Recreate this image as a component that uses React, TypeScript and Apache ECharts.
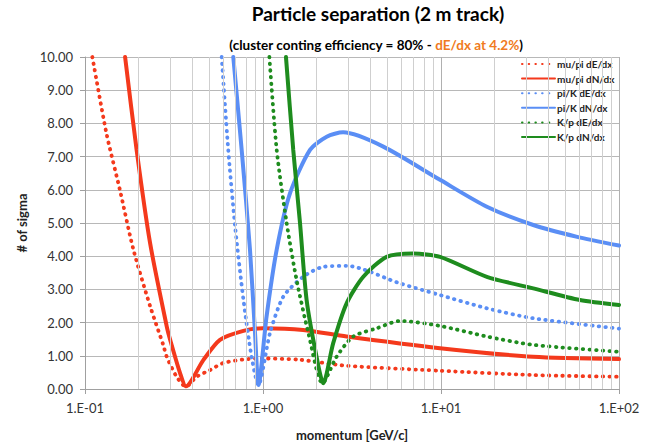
import React, { useEffect, useRef } from "react";
import * as echarts from "echarts";

// ---- data ----
const xTickLabels = ["1.E-01", "1.E+00", "1.E+01", "1.E+02"];
const minorGridMomenta = [0.2, 0.3, 0.4, 0.5, 0.6, 0.7, 0.8, 0.9, 2, 3, 4, 5, 6, 7, 8, 9, 20, 30, 40, 50, 60, 70, 80, 90];

const muPiDEdxP = [0.11, 0.132, 0.157, 0.187, 0.232, 0.275, 0.288, 0.327, 0.369, 0.424, 0.504, 0.596, 0.776, 1.0, 1.61, 2.95, 9.87, 32.9, 100];
const muPiDEdxS = [10, 7.7, 6.0, 4.2, 2.5, 1.33, 0.97, 0.37, 0.07, 0.37, 0.57, 0.78, 0.89, 0.92, 0.88, 0.7, 0.55, 0.42, 0.37];

const muPiDNdxP = [0.168, 0.195, 0.232, 0.288, 0.301, 0.342, 0.369, 0.462, 0.573, 0.776, 1.0, 1.68, 2.95, 9.87, 32.9, 100];
const muPiDNdxS = [10, 7.2, 4.4, 1.88, 1.48, 0.48, 0.08, 0.87, 1.48, 1.75, 1.83, 1.78, 1.58, 1.23, 0.97, 0.9];

const piKDEdxP = [0.586, 0.638, 0.697, 0.776, 0.863, 0.942, 1.094, 1.3, 1.68, 2.18, 2.95, 5.89, 9.87, 18.1, 33.0, 100];
const piKDEdxS = [10, 7.2, 4.9, 2.7, 0.97, 0.12, 1.68, 2.78, 3.38, 3.68, 3.71, 3.18, 2.83, 2.43, 2.13, 1.82];

const piKDNdxP = [0.681, 0.759, 0.845, 0.902, 0.944, 1.047, 1.194, 1.419, 1.837, 2.28, 2.82, 4.74, 9.87, 18.1, 33.0, 57.5, 100];
const piKDNdxS = [10, 7.2, 4.2, 1.68, 0.12, 2.18, 4.2, 5.9, 7.2, 7.6, 7.73, 7.3, 6.3, 5.49, 4.94, 4.59, 4.32];

const kPDEdxP = [1.086, 1.194, 1.358, 1.545, 1.8, 2.16, 2.59, 3.21, 4.36, 5.89, 9.87, 18.1, 33.0, 100];
const kPDEdxS = [10, 7.2, 5.0, 3.28, 1.68, 0.17, 0.97, 1.58, 1.83, 2.05, 1.9, 1.58, 1.33, 1.12];

const kPDNdxP = [1.346, 1.479, 1.614, 1.758, 2.0, 2.18, 2.48, 2.95, 3.66, 4.95, 6.98, 9.87, 18.1, 33.0, 60.3, 100];
const kPDNdxS = [10, 7.2, 5.0, 2.68, 0.97, 0.17, 1.38, 2.58, 3.38, 3.98, 4.08, 3.98, 3.38, 3.03, 2.68, 2.53];

const RED = "#f4391c";
const BLUE = "#5a8ef5";
const GREEN = "#1e8c1e";
const FONT = "Lato";

const zip = (xs: number[], ys: number[]) => xs.map((x, i) => [x, ys[i]]);

const seriesDefs = [
  { name: "mu/pi dE/dx", p: muPiDEdxP, s: muPiDEdxS, color: RED, dotted: true },
  { name: "mu/pi dN/dx", p: muPiDNdxP, s: muPiDNdxS, color: RED, dotted: false },
  { name: "pi/K dE/dx", p: piKDEdxP, s: piKDEdxS, color: BLUE, dotted: true },
  { name: "pi/K dN/dx", p: piKDNdxP, s: piKDNdxS, color: BLUE, dotted: false },
  { name: "K/p dE/dx", p: kPDEdxP, s: kPDEdxS, color: GREEN, dotted: true },
  { name: "K/p dN/dx", p: kPDNdxP, s: kPDNdxS, color: GREEN, dotted: false },
];

export default function App() {
  const ref = useRef<HTMLDivElement>(null);
  useEffect(() => {
    if (!ref.current) return;
    const chart = echarts.init(ref.current, undefined, { renderer: "svg" });
    const lineSeries = seriesDefs.map((d) => ({
      name: d.name,
      type: "line",
      data: zip(d.p, d.s),
      showSymbol: false,
      symbol: "none",
      smooth: 0.25,
      z: 3,
      lineStyle: d.dotted
        ? { color: d.color, width: 3.8, type: [0.5, 6.2], cap: "round" }
        : { color: d.color, width: 4, type: "solid", cap: "round" },
      itemStyle: { color: d.color },
    }));
    const option: any = {
      animation: false,
      backgroundColor: "#ffffff",
      textStyle: { fontFamily: FONT },
      title: [
        {
          text: "Particle separation (2 m track)",
          left: 373,
          top: -1,
          textAlign: "center",
          textStyle: { fontFamily: FONT, fontSize: 19, fontWeight: "bold", color: "#000" },
        },
        {
          text: "{a|(cluster conting efficiency = 80% - }{b|dE/dx at 4.2%}{a|)}",
          left: 371,
          top: 33,
          textAlign: "center",
          textStyle: {
            rich: {
              a: { fontFamily: FONT, fontSize: 13.5, fontWeight: "bold", color: "#000" },
              b: { fontFamily: FONT, fontSize: 13.5, fontWeight: "bold", color: "#f07a22" },
            },
          },
        },
      ],
      legend: {
        data: seriesDefs.map((d) => d.name),
        orient: "vertical",
        left: 521,
        top: 59,
        itemWidth: 33,
        itemHeight: 12,
        itemGap: 4.6,
        padding: 0,
        itemStyle: { opacity: 0 },
        textStyle: { fontFamily: FONT, fontSize: 10, fontWeight: "bold", color: "#222", padding: [0, 0, 0, -3] },
      },
      grid: { left: 85, right: 27, top: 57, bottom: 54, containLabel: false, outerBoundsMode: "none" },
      xAxis: {
        type: "log",
        logBase: 10,
        min: 0.1,
        max: 100,
        name: "momentum [GeV/c]",
        nameLocation: "middle",
        nameGap: 39,
        nameTextStyle: { fontFamily: FONT, fontSize: 13, fontWeight: "bold", color: "#222" },
        axisLine: { show: true, lineStyle: { color: "#a0a0a0", width: 1 } },
        axisTick: { show: true, length: 5, lineStyle: { color: "#a0a0a0" } },
        axisLabel: {
          fontFamily: FONT,
          fontSize: 13,
          color: "#333",
          margin: 12,
          formatter: (v: number) => xTickLabels[Math.round(Math.log10(v)) + 1] ?? "",
        },
        splitLine: { show: true, lineStyle: { color: "#b0b0b0", width: 1 } },
      },
      yAxis: {
        type: "value",
        min: 0,
        max: 10,
        interval: 1,
        name: "# of sigma",
        nameLocation: "middle",
        nameGap: 56,
        nameTextStyle: { fontFamily: FONT, fontSize: 13, fontWeight: "bold", color: "#222" },
        axisLine: { show: true, lineStyle: { color: "#a0a0a0", width: 1 } },
        axisTick: { show: true, length: 5, lineStyle: { color: "#a0a0a0" } },
        axisLabel: {
          fontFamily: FONT,
          fontSize: 13,
          color: "#333",
          margin: 12,
          formatter: (v: number) => v.toFixed(2),
        },
        splitLine: { show: true, lineStyle: { color: "#b8b8b8", width: 1 } },
      },
      series: [
        {
          name: "minor-grid",
          type: "line",
          data: [],
          silent: true,
          z: 1,
          markLine: {
            silent: true,
            symbol: "none",
            label: { show: false },
            lineStyle: { color: "#cfcfcf", width: 1, type: "solid" },
            data: minorGridMomenta.map((v) => ({ xAxis: v })),
          },
        },
        ...lineSeries,
      ],
    };
    chart.setOption(option);
    return () => chart.dispose();
  }, []);
  return <div ref={ref} style={{ position: "fixed", left: 0, top: 0, width: 646, height: 443 }} />;
}
